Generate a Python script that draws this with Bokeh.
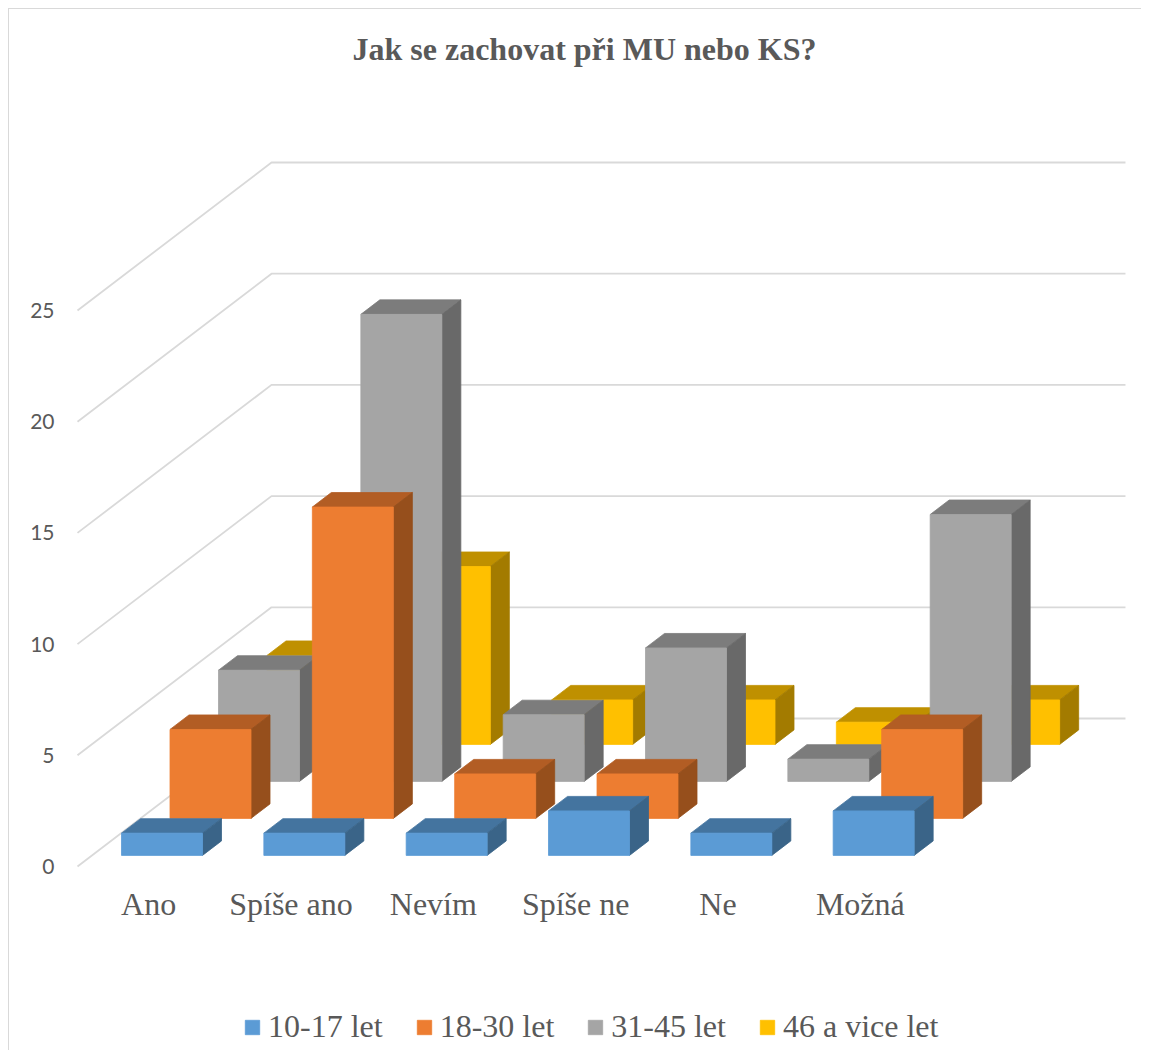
from bokeh.plotting import figure
from bokeh.models import Range1d, FixedTicker, Legend, LegendItem
from bokeh.embed import file_html
from bokeh.resources import INLINE

TITLE = "Jak se zachovat při MU nebo KS?"
categories = ["Ano", "Spíše ano", "Nevím", "Spíše ne", "Ne", "Možná"]
series_names = ["10-17 let", "18-30 let", "31-45 let", "46 a vice let"]
values_10_17 = [1, 1, 1, 2, 1, 2]
values_18_30 = [4, 14, 2, 2, 0, 4]
values_31_45 = [5, 21, 3, 6, 1, 12]
values_46 = [4, 8, 2, 2, 1, 2]
all_values = [values_10_17, values_18_30, values_31_45, values_46]
y_ticks = [0, 5, 10, 15, 20, 25]

front_colors = ["#5B9BD5", "#ED7D31", "#A5A5A5", "#FFC000"]
top_colors = ["#44749F", "#B25D24", "#7C7C7C", "#BF9000"]
side_colors = ["#3A6488", "#964F1C", "#696969", "#A37B00"]
TEXT = "#595959"
GRID = "#D9D9D9"
SERIF = "Liberation Serif"

# pixel geometry -> data units
FW, FH = 1063, 975
PX_X, PX_Y = 142.33, 22.24
x0 = -0.5 - 7 / PX_X
y0 = -184 / PX_Y
AXIS_Y = -6 / PX_Y
SLOT_X, SLOT_Y = 48.5 / PX_X, 37 / PX_Y
BAR_W = 81 / PX_X
DEPTH_X, DEPTH_Y = 19 / PX_X, 14.5 / PX_Y
Z0 = 0.3
BAR_SHIFT = -1.2 / PX_X

p = figure(frame_width=FW, frame_height=FH, output_backend="svg", toolbar_location=None,
           x_range=Range1d(x0, x0 + FW / PX_X), y_range=Range1d(y0, y0 + FH / PX_Y),
           min_border_left=61, min_border_right=8, min_border_top=66, min_border_bottom=0,
           margin=(8, 0, 0, 8),
           background_fill_color="white", border_fill_color="white")
p.styles = {"border-left": "1.5px solid #D9D9D9", "border-top": "1.5px solid #D9D9D9"}
p.outline_line_color = None
p.grid.visible = False

# title
p.title.text = TITLE
p.title.align = "left"
p.title.offset = 282
p.title.text_font = SERIF
p.title.text_font_style = "bold"
p.title.text_font_size = "32px"
p.title.text_color = TEXT
p.title.standoff = 17

# axes
xa = p.xaxis[0]
xa.fixed_location = AXIS_Y
xa.ticker = FixedTicker(ticks=list(range(len(categories))))
xa.major_label_overrides = {i: c for i, c in enumerate(categories)}
xa.major_label_text_font = SERIF
xa.major_label_text_font_size = "32px"
xa.major_label_text_color = TEXT
xa.major_label_standoff = 13
xa.axis_line_color = None
xa.major_tick_line_color = None
xa.minor_tick_line_color = None
xa.major_tick_out = 0

ya = p.yaxis[0]
ya.ticker = FixedTicker(ticks=y_ticks)
ya.major_label_text_font = "Lato"
ya.major_label_text_font_size = "21px"
ya.major_label_text_color = TEXT
ya.major_label_standoff = 16
ya.axis_line_color = None
ya.major_tick_line_color = None
ya.minor_tick_line_color = None
ya.major_tick_out = 0

# walls
nc = len(categories)
depth_slots = len(all_values)
for v in y_ticks:
    bx = -0.5 + depth_slots * SLOT_X
    by = v + depth_slots * SLOT_Y
    p.line([-0.5, bx, bx + nc], [v, by, by], line_color=GRID, line_width=1.8)

# bars, back to front
items = {}
for s in reversed(range(len(all_values))):
    z = s + Z0
    fx, fy, tx, ty, sx, sy = [], [], [], [], [], []
    for i, v in enumerate(all_values[s]):
        if v == 0:
            continue
        l = i - BAR_W / 2 + z * SLOT_X + BAR_SHIFT
        r = l + BAR_W
        b = z * SLOT_Y
        t = b + v
        fx.append([l, r, r, l]); fy.append([b, b, t, t])
        tx.append([l, r, r + DEPTH_X, l + DEPTH_X]); ty.append([t, t, t + DEPTH_Y, t + DEPTH_Y])
        sx.append([r, r + DEPTH_X, r + DEPTH_X, r]); sy.append([b, b + DEPTH_Y, t + DEPTH_Y, t])
    p.patches(tx, ty, fill_color=top_colors[s], line_color=top_colors[s], line_width=0.8)
    p.patches(sx, sy, fill_color=side_colors[s], line_color=side_colors[s], line_width=0.8)
    items[s] = p.patches(fx, fy, fill_color=front_colors[s], line_color=front_colors[s], line_width=0.8)

legend = Legend(items=[LegendItem(label=series_names[s], renderers=[items[s]]) for s in range(len(series_names))],
                orientation="horizontal", location=(173, 5), border_line_color=None,
                background_fill_alpha=0, glyph_width=18, glyph_height=18, label_standoff=7,
                spacing=32, padding=0, margin=0,
                label_text_font=SERIF, label_text_font_size="32px", label_text_color=TEXT)
p.add_layout(legend, "center")

open("out.html", "w").write(file_html(p, INLINE))
